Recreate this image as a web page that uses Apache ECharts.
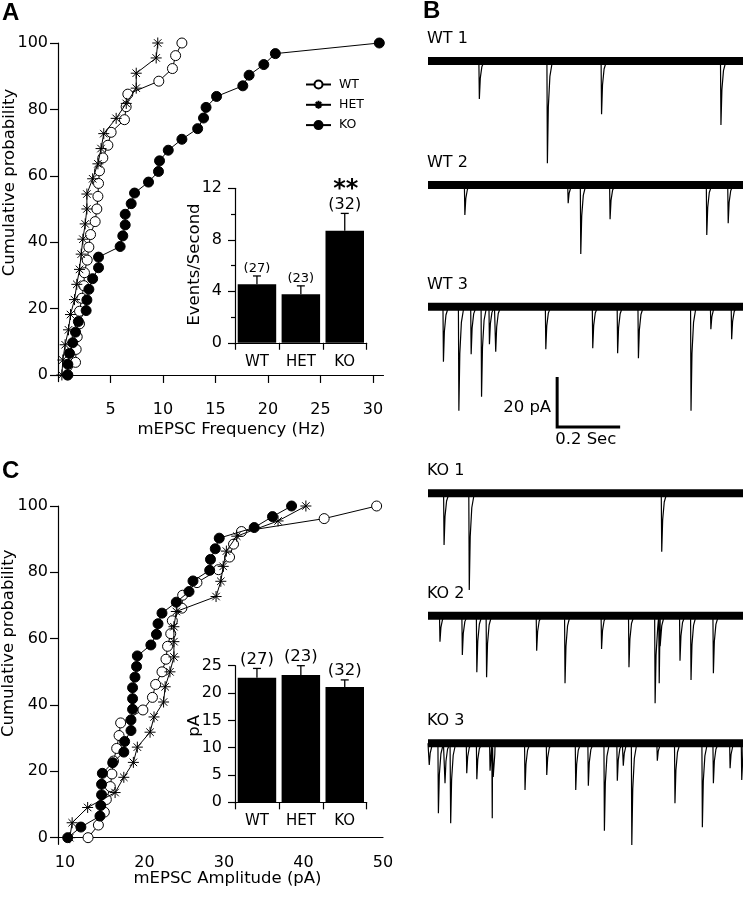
<!DOCTYPE html>
<html><head><meta charset="utf-8">
<script src="https://cdn.jsdelivr.net/npm/echarts@6/dist/echarts.min.js"></script>
<style>html,body{margin:0;padding:0;background:#fff}#c{width:743px;height:900px}</style>
</head><body><div id="c"></div>
<script>
// ---------- DATA ----------
const groups = ['WT', 'HET', 'KO'];
// cumulative probability levels (%)
const cumWT  = [0,3.8,7.7,11.5,15.4,19.2,23.1,26.9,30.8,34.6,38.5,42.3,46.2,50,53.8,57.7,61.5,65.4,69.2,73.1,76.9,80.8,84.6,88.5,92.3,96.2,100];
const cumHET = [0,4.5,9.1,13.6,18.2,22.7,27.3,31.8,36.4,40.9,45.5,50,54.5,59.1,63.6,68.2,72.7,77.3,81.8,86.4,90.9,95.5,100];
const cumKO  = [0,3.2,6.5,9.7,12.9,16.1,19.4,22.6,25.8,29.0,32.3,35.5,38.7,41.9,45.2,48.4,51.6,54.8,58.1,61.3,64.5,67.7,71.0,74.2,77.4,80.6,83.9,87.1,90.3,93.5,96.8,100];
// panel A: mEPSC frequency (Hz)
const freqWT  = [0.94,1.67,1.73,1.83,2.05,2.05,2.27,2.46,2.52,2.78,2.94,3.1,3.54,3.7,3.8,3.86,3.95,4.27,4.75,5.06,6.33,6.49,6.65,9.6,10.9,11.2,11.8];
const freqHET = [0.37,0.46,0.68,1.0,1.19,1.57,1.79,2.05,2.21,2.37,2.59,2.75,2.75,3.3,3.8,4.1,4.36,5.54,6.5,7.45,7.45,9.35,9.5];
const freqKO  = [0.9,0.94,1.1,1.4,1.67,1.94,2.68,2.75,2.94,3.3,3.86,3.86,5.92,6.17,6.4,6.4,6.97,7.29,8.62,9.57,9.67,10.5,11.8,13.3,13.86,14.1,15.1,17.6,18.2,19.6,20.7,30.6];
// panel C: mEPSC amplitude (pA)
const ampWT  = [12.9,14.2,14.95,15.2,15.7,15.9,16.1,16.5,16.8,17.0,19.8,21.0,21.4,22.2,22.7,22.9,23.3,23.5,24.7,24.8,26.6,29.3,30.7,31.2,32.2,42.6,49.2];
const ampHET = [10.6,10.9,12.85,16.3,17.4,18.6,19.1,20.7,21.2,22.4,22.6,23.2,23.7,23.7,23.7,24.0,29.0,29.6,29.9,30.3,31.6,36.8,40.3];
const ampKO  = [10.34,12.0,14.4,14.5,14.6,14.6,14.7,16.0,17.4,17.5,18.3,18.3,18.5,18.5,18.5,18.8,19.0,19.1,20.8,21.5,21.7,22.2,24.0,25.6,26.1,28.2,28.3,28.9,29.4,33.8,36.1,38.5];
// insets: mean and SEM
const freqMean = [4.55, 3.77, 8.7];
const freqSEM  = [0.64, 0.65, 1.35];
const ampMean  = [22.8, 23.3, 21.1];
const ampSEM   = [1.7, 1.7, 1.3];
const nCells   = ['(27)', '(23)', '(32)'];
const freqSig  = ['', '', '**'];
const freqTicks = [5, 10, 15, 20, 25, 30];
const ampTicks  = [10, 20, 30, 40, 50];
const cumTicks  = [0, 20, 40, 60, 80, 100];
const freqInsetTicks = [0, 4, 8, 12];
const freqInsetMinor = [2, 6, 10];
const ampInsetTicks  = [0, 5, 10, 15, 20, 25];
// panel B: example traces, events as [time (s), amplitude (pA)]
const traceNames = ['WT 1', 'WT 2', 'WT 3', 'KO 1', 'KO 2', 'KO 3'];
const wt1Events = [[0.163,15.2],[0.379,40.9],[0.551,21.3],[0.930,25.6]];
const wt2Events = [[0.117,12],[0.445,7.3],[0.485,27.6],[0.578,13.7],[0.885,20],[0.953,15.3]];
const wt3Events = [[0.049,22],[0.098,41.6],[0.137,19],[0.170,36],[0.195,15],[0.215,18],[0.374,17],[0.523,16.6],[0.602,18.6],[0.668,20.6],[0.835,41.6],[0.898,9],[0.964,13]];
const ko1Events = [[0.051,20.7],[0.131,38.7],[0.742,23.4]];
const ko2Events = [[0.038,10.4],[0.109,15.7],[0.155,22.6],[0.186,24.6],[0.345,14],[0.435,27],[0.551,13.3],[0.638,20.6],[0.721,35],[0.734,27],[0.800,18],[0.835,25.7],[0.906,23]];
const ko3Events = [[0.004,8.7],[0.033,28],[0.054,16],[0.072,32],[0.123,12],[0.155,14.4],[0.197,11],[0.204,30],[0.308,18.7],[0.377,12.7],[0.469,18.7],[0.509,17],[0.560,35],[0.601,15],[0.620,9],[0.647,40.7],[0.728,7],[0.784,24],[0.871,33.6],[0.906,16],[0.959,10],[0.996,14.7]];
const scaleBarTime = 0.2;   // s
const scaleBarAmp  = 20;    // pA

// ---------- LAYOUT / STYLE ----------
const F = 'DejaVu Sans';
const traceEvents = [wt1Events, wt2Events, wt3Events, ko1Events, ko2Events, ko3Events];
const traceBase = [-24.4, -74, -122.7, -197.3, -246.3, -297.3]; // vertical offsets of traces (pA units)
const scaleBarPos = [0.41, -150.8];
const axisLineStyle = {lineStyle: {color: '#000', width: 1.2}};
const asterisk = 'path://M5,0L5,10M0,5L10,5M1.6,1.6L8.4,8.4M1.6,8.4L8.4,1.6';
const styles = {
  WT:  {symbol: 'circle', size: 10, item: {color: '#fff', borderColor: '#000', borderWidth: 1}, z: 3},
  HET: {symbol: asterisk, size: 11, item: {color: '#000', borderColor: '#000', borderWidth: 1}, z: 4},
  KO:  {symbol: 'circle', size: 10, item: {color: '#000', borderColor: '#000', borderWidth: 1}, z: 5}
};

function pairs(xs, ys) { return xs.map((x, i) => [x, ys[i]]); }
function cumSeries(name, xs, ys, xi, yi) {
  const st = styles[name];
  return {type: 'line', name, xAxisIndex: xi, yAxisIndex: yi, data: pairs(xs, ys),
    symbol: st.symbol, symbolSize: st.size, showAllSymbol: true, clip: false,
    lineStyle: {color: '#000', width: 1}, itemStyle: st.item, z: st.z, animation: false, silent: true};
}
function barSeries(xi, yi, vals) {
  return {type: 'bar', xAxisIndex: xi, yAxisIndex: yi, data: vals, barWidth: 38.5,
    itemStyle: {color: '#000'}, animation: false, silent: true};
}
function errSeries(xi, yi, means, sems, labels, sizes, gap, sig) {
  return {type: 'custom', xAxisIndex: xi, yAxisIndex: yi, clip: false, animation: false, silent: true, z: 6,
    data: means.map((m, i) => [i, m, sems[i]]),
    renderItem(params, api) {
      const i = params.dataIndex, m = api.value(1), e = api.value(2);
      const p0 = api.coord([i, m]), p1 = api.coord([i, m + e]);
      const ch = [
        {type: 'line', shape: {x1: p0[0], y1: p0[1], x2: p1[0], y2: p1[1]}, style: {stroke: '#000', lineWidth: 1.3}},
        {type: 'line', shape: {x1: p1[0] - 4, y1: p1[1], x2: p1[0] + 4, y2: p1[1]}, style: {stroke: '#000', lineWidth: 1.3}},
        {type: 'text', x: p1[0], y: p1[1] - gap - sizes[i] * 0.45,
          style: {text: labels[i], fontSize: sizes[i], fontFamily: F, fill: '#000', align: 'center', verticalAlign: 'middle'}}
      ];
      if (sig && sig[i]) ch.push({type: 'text', x: p1[0] + 1, y: p1[1] - 24,
        style: {text: sig[i], fontSize: 24, fontWeight: 'bold', fontFamily: F, fill: '#000', align: 'center', verticalAlign: 'middle'}});
      return {type: 'group', children: ch};
    }};
}
function spikeData(base, events) {
  const pts = [[0, base]];
  events.forEach(([t, a]) => {
    pts.push([t - 0.0015, base], [t, base - a], [t + 0.003, base - 0.45 * a], [t + 0.008, base - 0.15 * a], [t + 0.016, base]);
  });
  pts.push([1, base]);
  return pts.sort((p, q) => p[0] - q[0]);
}

const valueAxisBase = {type: 'value', splitLine: {show: false}, axisLine: Object.assign({show: true}, axisLineStyle)};
function mainX(grid, min, max, ticks, showTicks, margin) {
  return Object.assign({}, valueAxisBase, {gridIndex: grid, min, max,
    axisTick: {show: showTicks, customValues: ticks, length: 8, lineStyle: {color: '#000', width: 1.2}},
    axisLabel: {customValues: ticks, margin, fontSize: 16, fontFamily: F, color: '#000'}});
}
function mainY(grid, min, max, ticks, len, margin, size) {
  return Object.assign({}, valueAxisBase, {gridIndex: grid, min, max, position: 'left',
    axisTick: {show: true, customValues: ticks, length: len, lineStyle: {color: '#000', width: 1.2}},
    axisLabel: {customValues: ticks, margin, fontSize: size, fontFamily: F, color: '#000'}});
}
function catX(grid) {
  return {type: 'category', gridIndex: grid, data: groups, boundaryGap: true,
    axisLine: axisLineStyle, axisTick: {show: true, length: 7, alignWithLabel: false, lineStyle: {color: '#000', width: 1.2}},
    axisLabel: {margin: 10, fontSize: 15, fontFamily: F, color: '#000'}, splitLine: {show: false}};
}

const traceSeries = [];
traceEvents.forEach((ev, k) => {
  const base = traceBase[k];
  traceSeries.push({type: 'line', xAxisIndex: 4, yAxisIndex: 5, data: [[0, base], [1, base]], symbol: 'none',
    lineStyle: {color: '#000', width: 8}, animation: false, silent: true});
  traceSeries.push({type: 'line', xAxisIndex: 4, yAxisIndex: 5, data: spikeData(base, ev), symbol: 'none',
    lineStyle: {color: '#000', width: 1.2}, animation: false, silent: true});
});
traceSeries.push({type: 'custom', xAxisIndex: 4, yAxisIndex: 5, clip: false, animation: false, silent: true,
  data: [[scaleBarPos[0], scaleBarPos[1], scaleBarTime, scaleBarAmp]],
  renderItem(params, api) {
    const t = api.value(0), y = api.value(1), dt = api.value(2), da = api.value(3);
    const top = api.coord([t, y]), corner = api.coord([t, y - da]), end = api.coord([t + dt, y - da]);
    return {type: 'group', children: [
      {type: 'polyline', shape: {points: [top, corner, end]}, style: {stroke: '#000', lineWidth: 3, fill: null}},
      {type: 'text', x: corner[0] - 6, y: corner[1] - 19.5, style: {text: da + ' pA', fontSize: 16.5, fontFamily: F, fill: '#000', align: 'right', verticalAlign: 'middle'}},
      {type: 'text', x: corner[0] - 2, y: corner[1] + 13, style: {text: dt + ' Sec', fontSize: 16.5, fontFamily: F, fill: '#000', align: 'left', verticalAlign: 'middle'}}
    ]};
  }});

function txt(text, x, y, opts) {
  return Object.assign({type: 'text', x, y, silent: true,
    style: Object.assign({text, fontSize: 16.5, fontFamily: F, fill: '#000', align: 'center', verticalAlign: 'middle'}, (opts && opts.style) || {})},
    (opts && opts.rotation !== undefined) ? {rotation: opts.rotation} : {});
}
const letterStyle = {style: {fontSize: 24, fontWeight: 'bold', fontFamily: 'Liberation Sans', align: 'left'}};
const graphics = [
  txt('A', 2, 13.5, letterStyle), txt('B', 423, 11, letterStyle), txt('C', 2, 471.5, letterStyle),
  txt('Cumulative probability', 9.5, 182.5, {rotation: Math.PI / 2}),
  txt('mEPSC Frequency (Hz)', 231.5, 430),
  txt('Events/Second', 195, 264.5, {rotation: Math.PI / 2}),
  txt('Cumulative probability', 9, 643.3, {rotation: Math.PI / 2}),
  txt('mEPSC Amplitude (pA)', 227.5, 879),
  txt('pA', 194.5, 725.8, {rotation: Math.PI / 2})
];
traceNames.forEach((n, k) => graphics.push(txt(n, 427, -traceBase[k] * 2.5 - 22, {style: {align: 'left', fontSize: 16}})));

const chart = echarts.init(document.getElementById('c'), null, {renderer: 'canvas'});
chart.setOption({
  backgroundColor: '#fff',
  animation: false,
  grid: [
    {left: 58, top: 43, width: 325.5, height: 338.6, outerBoundsMode: 'none'},
    {left: 235, top: 188.3, width: 131.7, height: 156.4, outerBoundsMode: 'none'},
    {left: 58, top: 506, width: 325, height: 338.3, outerBoundsMode: 'none'},
    {left: 235, top: 665.7, width: 131.7, height: 138, outerBoundsMode: 'none'},
    {left: 428, top: 0, width: 315, height: 900, outerBoundsMode: 'none'}
  ],
  legend: {data: groups, orient: 'vertical', left: 300, top: 73, itemWidth: 25, itemHeight: 10, itemGap: 7.3,
    textStyle: {fontSize: 12.5, fontFamily: F, color: '#000', padding: [0, 0, 0, 3]}, selectedMode: false},
  xAxis: [
    mainX(0, 0, 31, freqTicks, true, 20),
    catX(1),
    mainX(2, 9.12, 50, ampTicks, false, 11),
    catX(3),
    {type: 'value', gridIndex: 4, min: 0, max: 1, show: false}
  ],
  yAxis: [
    mainY(0, -2, 100, cumTicks, 8, 10, 16),
    mainY(1, -0.15, 12, freqInsetTicks, 7, 13, 16),
    {type: 'value', gridIndex: 1, min: -0.15, max: 12, position: 'left', axisLine: {show: false}, splitLine: {show: false},
      axisTick: {show: true, customValues: freqInsetMinor, length: 4, lineStyle: {color: '#000', width: 1.2}}, axisLabel: {show: false}},
    mainY(2, -2, 100, cumTicks, 8, 10, 16),
    mainY(3, -0.25, 25, ampInsetTicks, 7, 13, 16),
    {type: 'value', gridIndex: 4, min: -360, max: 0, show: false}
  ],
  graphic: graphics,
  series: [
    cumSeries('WT', freqWT, cumWT, 0, 0),
    cumSeries('HET', freqHET, cumHET, 0, 0),
    cumSeries('KO', freqKO, cumKO, 0, 0),
    barSeries(1, 1, freqMean),
    errSeries(1, 1, freqMean, freqSEM, nCells, [13, 13, 16], 1, freqSig),
    cumSeries('WT', ampWT, cumWT, 2, 3),
    cumSeries('HET', ampHET, cumHET, 2, 3),
    cumSeries('KO', ampKO, cumKO, 2, 3),
    barSeries(3, 4, ampMean),
    errSeries(3, 4, ampMean, ampSEM, nCells, [16.5, 16.5, 16.5], 1.5, null)
  ].concat(traceSeries)
});
</script></body></html>
